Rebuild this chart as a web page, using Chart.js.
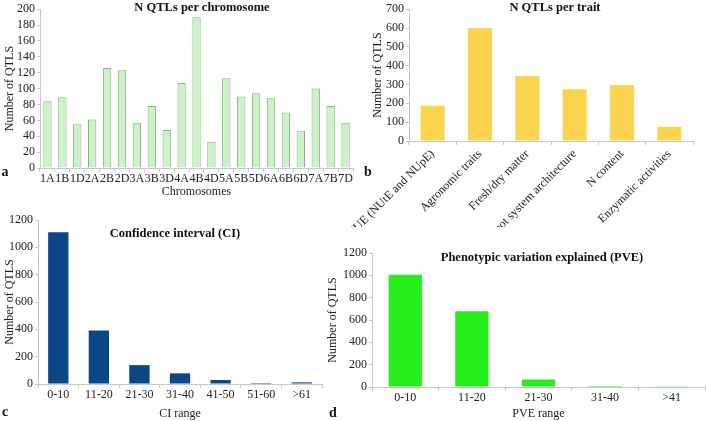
<!DOCTYPE html>
<html><head><meta charset="utf-8">
<script src="https://cdn.jsdelivr.net/npm/chart.js@4"></script>
<style>
body{margin:0;background:#fff;width:707px;height:421px;overflow:hidden;position:relative;font-family:"Liberation Serif",serif;}
canvas{position:absolute;}
.t{position:absolute;font-weight:bold;font-size:12.5px;color:#111;white-space:nowrap;transform:translate(-50%,-50%);}
.p{position:absolute;font-weight:bold;font-size:14px;color:#111;transform:translate(-50%,-50%);}
</style></head><body>
<canvas id="ca" width="360" height="200" style="left:0;top:0"></canvas>
<canvas id="cc" width="340" height="221" style="left:0;top:200px"></canvas>
<canvas id="cd" width="387" height="191" style="left:320px;top:230px"></canvas>
<canvas id="cb" width="377" height="227" style="left:330px;top:0"></canvas>
<div class="t" style="left:202px;top:7px">N QTLs per chromosome</div>
<div class="t" style="left:555px;top:7px">N QTLs per trait</div>
<div class="t" style="left:175px;top:233px">Confidence interval (CI)</div>
<div class="t" style="left:542px;top:257px">Phenotypic variation explained (PVE)</div>
<div class="p" style="left:5px;top:172px">a</div>
<div class="p" style="left:368px;top:172px">b</div>
<div class="p" style="left:5px;top:412px">c</div>
<div class="p" style="left:333px;top:413px">d</div>
<script>
const chromosomes = ["1A","1B","1D","2A","2B","2D","3A","3B","3D","4A","4B","4D","5A","5B","5D","6A","6B","6D","7A","7B","7D"];
const qtlPerChromosome = [84,89,55,61,126,123,57,78,48,107,190,33,113,90,94,88,70,47,100,78,57];
const traits = ["NUE (NUtE and NUpE)","Agronomic traits","Fresh/dry matter","Root system architecture","N content","Enzymatic activities"];
const qtlPerTrait = [187,600,345,275,298,76];
const ciRanges = ["0-10","11-20","21-30","31-40","41-50","51-60",">61"];
const qtlPerCI = [1110,392,138,78,29,7,12];
const pveRanges = ["0-10","11-20","21-30","31-40",">41"];
const qtlPerPVE = [1005,679,68,9,6];

const FONT = "Liberation Serif";
const AX = '#c8c8c8';
Chart.defaults.font.family = FONT;

function make(id, labels, values, o){
  const f = {family: FONT, size: o.fs || 12};
  new Chart(document.getElementById(id), {
    type: 'bar',
    data: {labels: labels, datasets: [{data: values, backgroundColor: o.bg, borderColor: o.bc || o.bg, borderWidth: o.bw || 0, barPercentage: o.bp, categoryPercentage: 1}]},
    options: {
      responsive: false, animation: false, devicePixelRatio: 1,
      layout: {padding: o.pad},
      plugins: {legend: {display: false}, tooltip: {enabled: false}, title: {display: false}},
      scales: {
        x: {
          grid: {display: true, drawOnChartArea: false, drawTicks: true, tickLength: 4, color: AX},
          border: {color: AX},
          ticks: {color: '#222', font: f, autoSkip: false, maxRotation: o.rot || 0, minRotation: o.rot || 0, padding: o.xpad},
          title: {display: !!o.xt, text: o.xt, color: '#222', font: f, padding: {top: 0, bottom: o.tb}},
          afterFit: s => { s.height = o.xh; }
        },
        y: {
          min: 0, max: o.ymax,
          grid: {display: true, drawOnChartArea: false, drawTicks: true, tickLength: 3, color: AX},
          border: {color: AX},
          ticks: {stepSize: o.step, autoSkip: false, color: '#222', font: f, padding: 2, callback: v => String(v)},
          title: {display: true, text: 'Number of QTLS', color: '#222', font: f, padding: {top: 3, bottom: 0}},
          afterFit: s => { s.width = o.yw; }
        }
      }
    }
  });
}

function drawAll(){
  make('ca', chromosomes, qtlPerChromosome, {bg: '#ccf3c8', bc: '#86b383', bw: 1, bp: 0.56,
    pad: {left: 0, top: 8, right: 7, bottom: 0}, yw: 40, xh: 32, ymax: 200, step: 20, xt: 'Chromosomes', fs: 12, xpad: 0, tb: 1});
  make('cb', traits, qtlPerTrait, {bg: '#fdd44f', bp: 0.51,
    pad: {left: 38, top: 6, right: 14, bottom: 0}, yw: 41, xh: 86, ymax: 700, step: 100, rot: 45, fs: 12, xpad: 2, tb: 0});
  make('cc', ciRanges, qtlPerCI, {bg: '#0b4787', bp: 0.5,
    pad: {left: 0, top: 20, right: 18, bottom: 0}, yw: 38, xh: 37, ymax: 1200, step: 200, xt: 'CI range', fs: 12, xpad: 0, tb: 0});
  make('cd', pveRanges, qtlPerPVE, {bg: '#26ee1c', bp: 0.5,
    pad: {left: 3, top: 23, right: 2, bottom: 0}, yw: 49, xh: 34, ymax: 1200, step: 200, xt: 'PVE range', fs: 12, xpad: 0, tb: 0});
}
if (document.fonts && document.fonts.load) {
  document.fonts.load('12px "Liberation Serif"').then(drawAll, drawAll);
} else { drawAll(); }
</script>
</body></html>
